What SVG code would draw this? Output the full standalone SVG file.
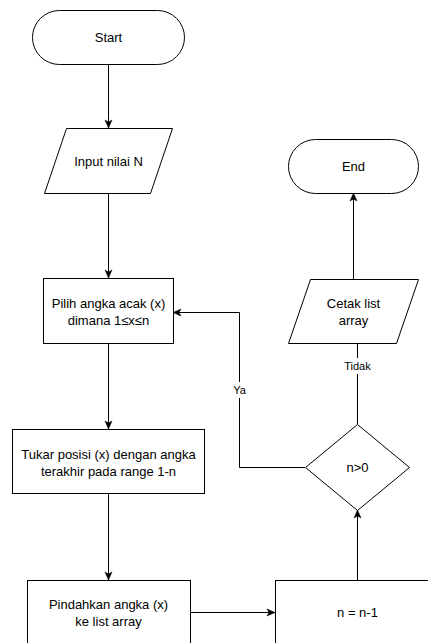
<svg xmlns="http://www.w3.org/2000/svg" width="428" height="643" viewBox="0 0 428 643">
<style>
.s{fill:#fff;stroke:#000;stroke-width:1}
.t{font-family:"Liberation Sans",Arial,sans-serif;font-size:13px;fill:#000;text-anchor:middle;dominant-baseline:central}
.l{font-family:"Liberation Sans",Arial,sans-serif;font-size:11px;fill:#000;text-anchor:middle;dominant-baseline:central}
.c{fill:none;stroke:#000;stroke-width:1}
</style>
<defs>
<marker id="a" markerUnits="userSpaceOnUse" markerWidth="10" markerHeight="10" viewBox="0 0 10 10" refX="9" refY="5" orient="auto">
<path d="M1,1.5 L9,5 L1,8.5 L3,5 z" fill="#000" stroke="#000" stroke-width="0.5"/>
</marker>
</defs>
<rect width="428" height="643" fill="#fff"/>
<g id="connectors">
<path class="c" d="M108.5,64 V128" marker-end="url(#a)"/>
<path class="c" d="M108.5,193 V278" marker-end="url(#a)"/>
<path class="c" d="M108.5,343 V429" marker-end="url(#a)"/>
<path class="c" d="M108.5,493 V580" marker-end="url(#a)"/>
<path class="c" d="M190,612.5 H275" marker-end="url(#a)"/>
<path class="c" d="M357.5,580 V510" marker-end="url(#a)"/>
<path class="c" d="M357.5,424 V343"/>
<path class="c" d="M353.5,279 V193" marker-end="url(#a)"/>
<path class="c" d="M305,467.5 H239.5 V312.5 H173" marker-end="url(#a)"/>
<rect x="338" y="358" width="39" height="16" fill="#fff"/>
<text class="l" x="357.5" y="366">Tidak</text>
<rect x="230" y="382" width="19" height="16" fill="#fff"/>
<text class="l" x="239.5" y="390">Ya</text>
</g>
<g id="start">
<rect class="s" x="32.5" y="10.5" width="152" height="54" rx="27" ry="27"/>
<text class="t" x="108.5" y="37.5">Start</text>
</g>
<g id="input">
<polygon class="s" points="66.5,128.5 172.5,128.5 150.5,193.5 44.5,193.5"/>
<text class="t" x="108.5" y="161">Input nilai N</text>
</g>
<g id="pilih">
<rect class="s" x="43.5" y="278.5" width="130" height="65"/>
<text class="t" x="108.5" y="303">Pilih angka acak (x)</text>
<text class="t" x="108.5" y="320">dimana 1≤x≤n</text>
</g>
<g id="tukar">
<rect class="s" x="12.5" y="429.5" width="192" height="64"/>
<text class="t" x="108.5" y="454">Tukar posisi (x) dengan angka</text>
<text class="t" x="108.5" y="471">terakhir pada range 1-n</text>
</g>
<g id="pindahkan">
<rect class="s" x="27.5" y="580.5" width="163" height="65"/>
<text class="t" x="108.5" y="604">Pindahkan angka (x)</text>
<text class="t" x="108.5" y="621">ke list array</text>
</g>
<g id="decrement">
<rect class="s" x="275.5" y="580.5" width="164" height="65"/>
<text class="t" x="357.5" y="612">n = n-1</text>
</g>
<g id="decision">
<polygon class="s" points="357.5,424.5 409.5,467.5 357.5,510.5 305.5,467.5"/>
<text class="t" x="357.5" y="467">n&gt;0</text>
</g>
<g id="cetak">
<polygon class="s" points="310.5,279.5 418.5,279.5 396.5,343.5 288.5,343.5"/>
<text class="t" x="353.5" y="303">Cetak list</text>
<text class="t" x="353.5" y="320">array</text>
</g>
<g id="end">
<rect class="s" x="288.5" y="139.5" width="130" height="54" rx="27" ry="27"/>
<text class="t" x="353.5" y="166.5">End</text>
</g>
</svg>
